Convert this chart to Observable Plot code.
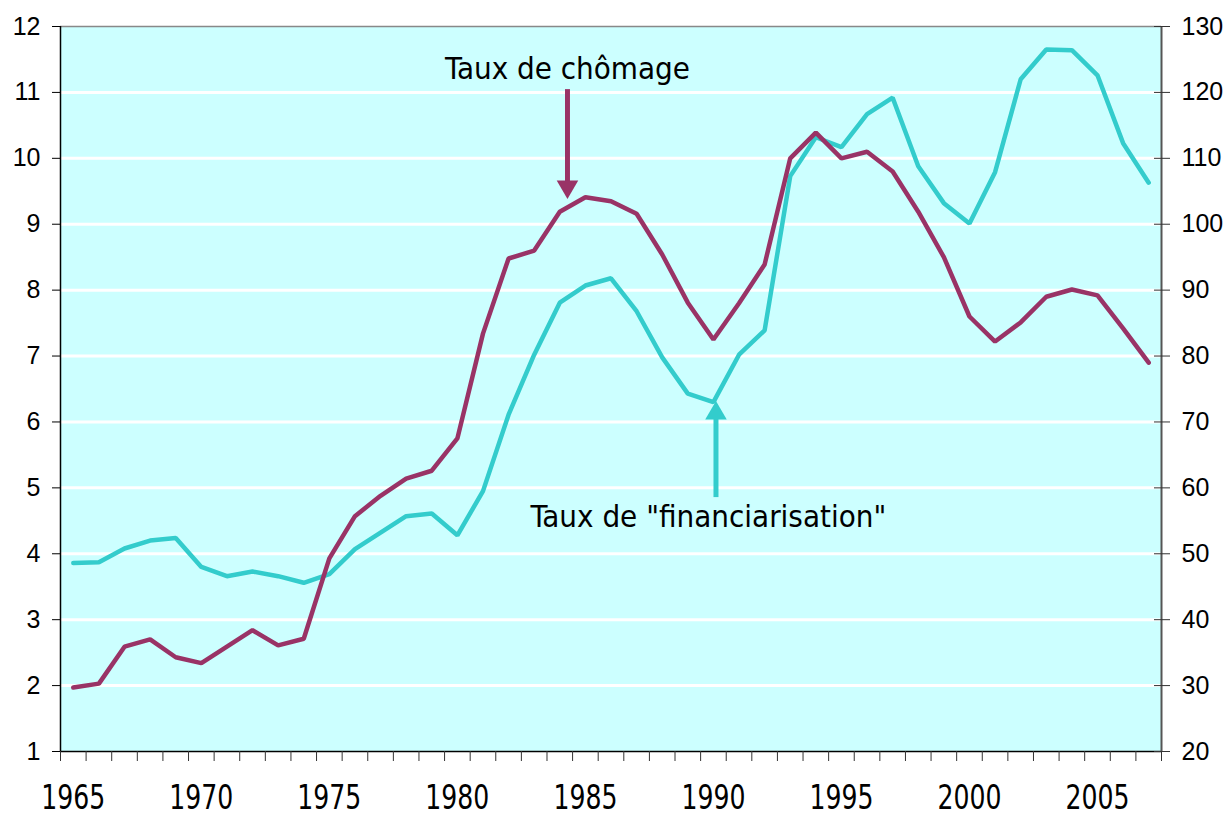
<!DOCTYPE html>
<html>
<head>
<meta charset="utf-8">
<script src="https://cdn.jsdelivr.net/npm/d3@7"></script>
<script src="https://cdn.jsdelivr.net/npm/@observablehq/plot@0.6"></script>
<style>
  html, body { margin: 0; padding: 0; background: #ffffff; }
  #chart svg { display: block; }
</style>
</head>
<body>
<div id="chart"></div>
<script>
// ---- Data ----
const years = [1965,1966,1967,1968,1969,1970,1971,1972,1973,1974,
               1975,1976,1977,1978,1979,1980,1981,1982,1983,1984,
               1985,1986,1987,1988,1989,1990,1991,1992,1993,1994,
               1995,1996,1997,1998,1999,2000,2001,2002,2003,2004,
               2005,2006,2007];

// Taux de chômage (%), left axis
const chomage = [1.97,2.03,2.59,2.70,2.43,2.34,2.59,2.84,2.61,2.71,
                 3.93,4.57,4.88,5.14,5.26,5.75,7.34,8.48,8.60,9.19,
                 9.41,9.35,9.16,8.54,7.81,7.25,7.80,8.39,10.00,10.39,
                 10.00,10.10,9.80,9.19,8.50,7.60,7.22,7.51,7.90,8.01,
                 7.92,7.42,6.90];

// Taux de "financiarisation", right axis
const financiarisation = [48.6,48.7,50.8,52.0,52.4,48.0,46.6,47.3,46.6,45.6,
                          46.9,50.7,53.2,55.7,56.1,52.8,59.5,71.1,80.2,88.1,
                          90.7,91.8,86.8,79.8,74.3,73.0,80.2,83.9,107.3,113.2,
                          111.7,116.7,119.2,108.8,103.2,100.1,107.9,122.0,126.5,126.4,
                          122.6,112.3,106.3];

const leftTicks = [1,2,3,4,5,6,7,8,9,10,11,12];
const rightTicks = [20,30,40,50,60,70,80,90,100,110,120,130];
const yearLabels = [1965,1970,1975,1980,1985,1990,1995,2000,2005];

// Annotations (data coordinates)
const labelChomage = [{year: 1984.3, value: 11.35, text: "Taux de chômage"}];
const arrowChomage = [{year: 1984.3, from: 11.05, to: 9.45}];
const labelFin = [{year: 1989.8, value: 4.56, text: "Taux de \"financiarisation\""}];
const arrowFin = [{year: 1990.1, from: 4.86, to: 6.25}];

// ---- Derived tables ----
const rightMin = 20, rightMax = 130, leftMin = 1, leftMax = 12;
const toLeft = v => leftMin + (v - rightMin) * (leftMax - leftMin) / (rightMax - rightMin);
const toRight = v => rightMin + (v - leftMin) * (rightMax - rightMin) / (leftMax - leftMin);

const dataCh = years.map((y, i) => ({year: y, v: chomage[i]}));
const dataFin = years.map((y, i) => ({year: y, v: toLeft(financiarisation[i])}));
const bandEdges = years.map(y => y - 0.5).concat([years[years.length - 1] + 0.5]);
const xDomain = [bandEdges[0], bandEdges[bandEdges.length - 1]];

const purple = "#993366";
const teal = "#33CCCC";
const tickFont = "'Liberation Sans', Arial, sans-serif";
const yearFont = "'DejaVu Sans Condensed', 'DejaVu Sans', sans-serif";
const annoFont = "'DejaVu Sans Condensed', 'DejaVu Sans', sans-serif";

const chart = Plot.plot({
  width: 1226,
  height: 819,
  marginLeft: 60,
  marginRight: 65,
  marginTop: 26,
  marginBottom: 68,
  style: {fontFamily: tickFont, background: "#ffffff", color: "#000"},
  x: {domain: xDomain, type: "linear"},
  y: {domain: [leftMin, leftMax]},
  marks: [
    Plot.frame({fill: "#CCFFFF", stroke: null}),
    Plot.gridY(leftTicks.slice(1, -1), {stroke: "#ffffff", strokeOpacity: 1, strokeWidth: 3}),
    Plot.ruleY([leftMax], {stroke: "#888888", strokeWidth: 1.5}),
    Plot.ruleY([leftMin], {stroke: "#000000", strokeWidth: 1.5}),
    Plot.ruleX([xDomain[0]], {stroke: "#000000", strokeWidth: 1.5}),
    Plot.ruleX([xDomain[1]], {stroke: "#555555", strokeWidth: 2}),
    Plot.line(dataFin, {x: "year", y: "v", stroke: teal, strokeWidth: 4.5, strokeLinejoin: "miter"}),
    Plot.line(dataCh, {x: "year", y: "v", stroke: purple, strokeWidth: 4.5, strokeLinejoin: "miter"}),
    // annotation arrows
    Plot.link(arrowChomage, {x1: "year", x2: "year", y1: "from", y2: d => d.to + 0.2, stroke: purple, strokeWidth: 5}),
    Plot.dot(arrowChomage, {x: "year", y: d => d.to + 0.12, symbol: "triangle", rotate: 180, r: 8, fill: purple, stroke: null}),
    Plot.link(arrowFin, {x1: "year", x2: "year", y1: "from", y2: d => d.to - 0.2, stroke: teal, strokeWidth: 5}),
    Plot.dot(arrowFin, {x: "year", y: d => d.to - 0.12, symbol: "triangle", r: 8, fill: teal, stroke: null}),
    Plot.text(labelChomage, {x: "year", y: "value", text: "text", fontSize: 31, fontFamily: annoFont, fill: "#000"}),
    Plot.text(labelFin, {x: "year", y: "value", text: "text", fontSize: 31, fontFamily: annoFont, fill: "#000"}),
    // axes
    Plot.axisY({anchor: "left", ticks: leftTicks, tickSize: 8, tickPadding: 12, fontSize: 25,
                fontFamily: tickFont, stroke: "#000", label: null}),
    Plot.axisY({anchor: "right", ticks: rightTicks.map(toLeft), tickFormat: v => String(Math.round(toRight(v))),
                tickSize: 8, tickPadding: 12, fontSize: 25, fontFamily: tickFont, stroke: "#333", label: null}),
    Plot.axisY({anchor: "right", ticks: rightTicks.map(toLeft), tickFormat: () => "",
                tickSize: 8, dx: -8, stroke: "#333", label: null}),
    Plot.axisX({anchor: "bottom", ticks: bandEdges, tickFormat: () => "", tickSize: 10, stroke: "#333", label: null}),
    Plot.axisX({anchor: "bottom", ticks: yearLabels, tickFormat: d => String(d), tickSize: 0, tickPadding: 34,
                fontSize: 33, fontFamily: yearFont, label: null})
  ]
});
// compress year labels horizontally to mimic the condensed face of the original
d3.select(chart).selectAll("text").each(function () {
  const t = this.textContent;
  if (/^(19|20)\d\d$/.test(t)) {
    this.setAttribute("textLength", 64);
    this.setAttribute("lengthAdjust", "spacingAndGlyphs");
  }
});
document.getElementById("chart").appendChild(chart);
</script>
</body>
</html>
